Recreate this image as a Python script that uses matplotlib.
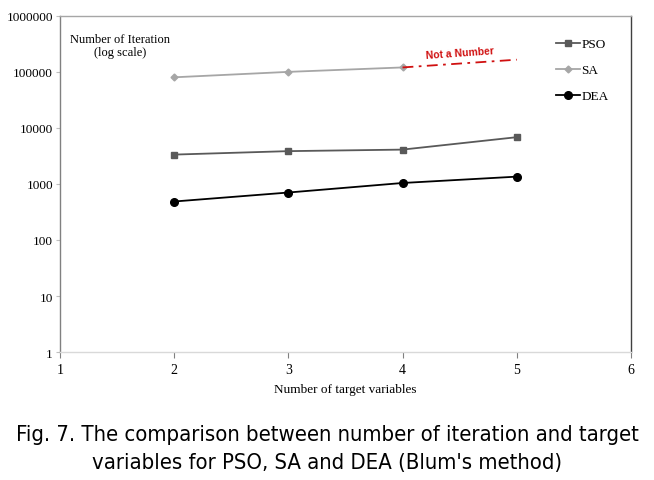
import numpy as np
import matplotlib.pyplot as plt

# values (log scale)
x_vars = [2, 3, 4, 5]
pso = [3340, 3850, 4100, 6830]
sa = [80000, 100000, 120000]
sa_nan = [120000, 165000]
dea = [486, 703, 1040, 1350]
y_ticks = [1, 10, 100, 1000, 10000, 100000, 1000000]
y_labels = ['1', '10', '100', '1000', '10000', '100000', '1000000']

serif = ['Liberation Serif', 'DejaVu Serif']
plt.rcParams['font.family'] = serif

fig = plt.figure(figsize=(6.54, 4.81), dpi=100)
ax = fig.add_axes([0.0917, 0.266, 0.873, 0.699])

ax.plot(x_vars, pso, color='#595959', marker='s', markersize=5, lw=1.3, label='PSO')
ax.plot(x_vars[:3], sa, color='#a6a6a6', marker='D', markersize=3.5, lw=1.3, label='SA')
ax.plot(x_vars[2:], sa_nan, color='#d01010', lw=1.3, dashes=[6, 3, 1.5, 3])
ax.plot(x_vars, dea, color='black', marker='o', markersize=5.5, lw=1.3, label='DEA')

ax.set_yscale('log')
ax.set_ylim(1, 1000000)
ax.set_xlim(1, 6)
ax.set_yticks(y_ticks)
ax.set_yticklabels(y_labels)
ax.minorticks_off()
ax.set_xticks(range(1, 7))
ax.tick_params(axis='y', length=3, color='#bfbfbf', labelsize=9.5, pad=2)
ax.tick_params(axis='x', length=4, color='#808080', labelsize=10, pad=4)

ax.spines['left'].set_color('#808080')
ax.spines['bottom'].set_color('#d9d9d9')
ax.spines['top'].set_color('#a6a6a6')
ax.spines['right'].set_color('#404040')
for s in ax.spines.values():
    s.set_linewidth(1.0)

ax.set_xlabel('Number of target variables', fontsize=9.5, labelpad=5)
ax.text(0.105, 0.95, 'Number of Iteration\n(log scale)', transform=ax.transAxes,
        ha='center', va='top', fontsize=9, linespacing=1.1)
ax.text(4.5, 225000, 'Not a Number', color='#d01010', fontsize=7.5, fontweight='bold',
        family=['Liberation Sans', 'DejaVu Sans'], ha='center', va='center', rotation=4)

ax.legend(loc='upper left', bbox_to_anchor=(0.86, 0.95), frameon=False, fontsize=9.5,
          handlelength=1.8, handletextpad=0.1, labelspacing=1.05, borderaxespad=0)

fig.text(0.5, 0.066, "Fig. 7. The comparison between number of iteration and target\n"
         "variables for PSO, SA and DEA (Blum's method)",
         ha='center', va='center', fontsize=15.8, linespacing=1.5,
         family=['DejaVu Sans'], fontstretch='condensed')

fig.savefig('out.png', dpi=100)
